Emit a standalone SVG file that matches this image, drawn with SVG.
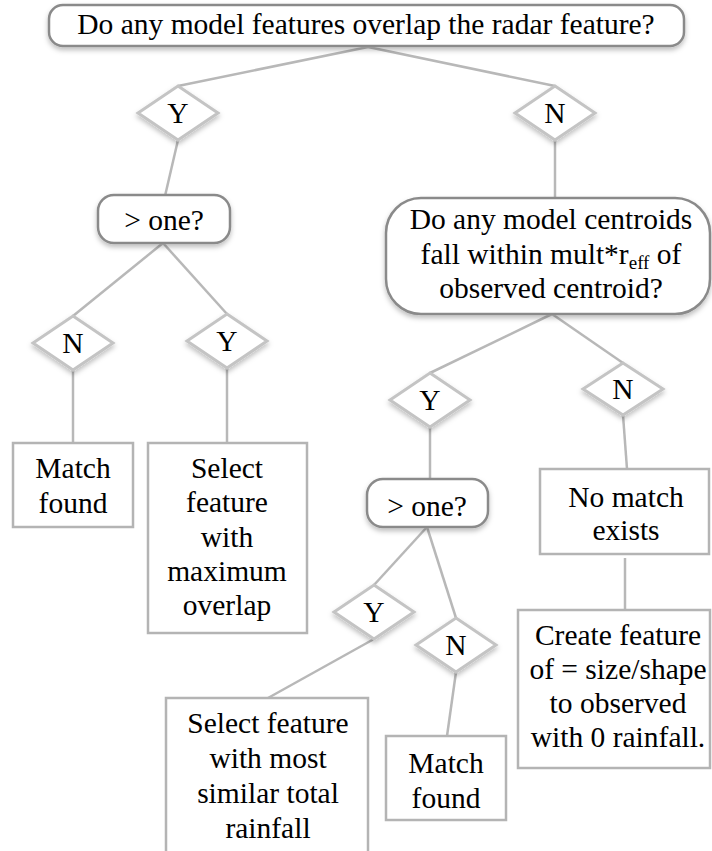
<svg xmlns="http://www.w3.org/2000/svg" width="712" height="851" viewBox="0 0 712 851">
<defs>
<filter id="sh" x="-20%" y="-20%" width="140%" height="160%">
<feDropShadow dx="0" dy="3" stdDeviation="2.5" flood-color="#000" flood-opacity="0.25"/>
</filter>
<style>
text{font-family:'Liberation Serif','Times New Roman',Times,serif;font-size:29.5px;fill:#000;text-anchor:middle}
.rb{fill:#fff;stroke:#8a8a8a;stroke-width:2.5;filter:url(#sh)}
.dm{fill:#fff;stroke:#c4c4c4;stroke-width:3;filter:url(#sh)}
.bx{fill:#fff;stroke:#b4b4b4;stroke-width:2.5}
.cn{fill:none;stroke:#b8b8b8;stroke-width:2.5}
</style>
</defs>
<rect width="712" height="851" fill="#fff"/>
<g id="connectors">
<line class="cn" x1="368" y1="47" x2="178" y2="86"/>
<line class="cn" x1="368" y1="47" x2="555" y2="86"/>
<line class="cn" x1="178" y1="140" x2="165" y2="196"/>
<line class="cn" x1="555" y1="140" x2="555" y2="198"/>
<line class="cn" x1="163" y1="243" x2="73" y2="316"/>
<line class="cn" x1="163" y1="243" x2="227" y2="314"/>
<line class="cn" x1="73" y1="370" x2="73" y2="443"/>
<line class="cn" x1="227" y1="368" x2="227" y2="443"/>
<line class="cn" x1="552" y1="314" x2="430" y2="373"/>
<line class="cn" x1="552" y1="314" x2="623" y2="363"/>
<line class="cn" x1="430" y1="427" x2="430" y2="479"/>
<line class="cn" x1="623" y1="415" x2="627" y2="469"/>
<line class="cn" x1="625" y1="558" x2="625" y2="610"/>
<line class="cn" x1="427" y1="527" x2="374" y2="585"/>
<line class="cn" x1="427" y1="527" x2="456" y2="618"/>
<line class="cn" x1="374" y1="639" x2="268" y2="698"/>
<line class="cn" x1="456" y1="672" x2="447" y2="736"/>
</g>
<g font-family="Liberation Serif, serif">
<g id="q-overlap">
<rect class="rb" x="49" y="5" width="635" height="41" rx="14"/>
<text x="366" y="34">Do any model features overlap the radar feature?</text>
</g>
<g id="d-y1"><polygon class="dm" points="178,86 218,113 178,140 138,113"/><text x="178" y="123">Y</text></g>
<g id="d-n1"><polygon class="dm" points="555,86 595,113 555,140 515,113"/><text x="555" y="123">N</text></g>
<g id="q-more1">
<rect class="rb" x="98" y="195" width="132" height="48" rx="16"/>
<text x="164" y="230">&gt; one?</text>
</g>
<g id="q-centroid">
<rect class="rb" x="386" y="198" width="324" height="116" rx="35"/>
<text x="551" y="229">Do any model centroids</text>
<text x="551" y="264">fall within mult*r<tspan font-size="19" dy="5">eff</tspan><tspan dy="-5"> of</tspan></text>
<text x="551" y="298">observed centroid?</text>
</g>
<g id="d-n2"><polygon class="dm" points="73,316 113,343 73,370 33,343"/><text x="73" y="353">N</text></g>
<g id="d-y2"><polygon class="dm" points="227,314 267,341 227,368 187,341"/><text x="227" y="351">Y</text></g>
<g id="d-y3"><polygon class="dm" points="430,373 470,400 430,427 390,400"/><text x="430" y="410">Y</text></g>
<g id="d-n3"><polygon class="dm" points="623,363 663,389 623,415 583,389"/><text x="623" y="399">N</text></g>
<g id="r-match1">
<rect class="bx" x="13" y="443" width="120" height="84"/>
<text x="73" y="478">Match</text><text x="73" y="513">found</text>
</g>
<g id="r-select-overlap">
<rect class="bx" x="148" y="443" width="159" height="190"/>
<text x="227" y="478">Select</text><text x="227" y="512">feature</text><text x="227" y="547">with</text><text x="227" y="581">maximum</text><text x="227" y="615">overlap</text>
</g>
<g id="q-more2">
<rect class="rb" x="367" y="479" width="121" height="48" rx="16"/>
<text x="427" y="516">&gt; one?</text>
</g>
<g id="r-nomatch">
<rect class="bx" x="540" y="469" width="169" height="85"/>
<text x="626" y="507">No match</text><text x="626" y="540">exists</text>
</g>
<g id="d-y4"><polygon class="dm" points="374,585 414,612 374,639 334,612"/><text x="374" y="622">Y</text></g>
<g id="d-n4"><polygon class="dm" points="456,618 496,645 456,672 416,645"/><text x="456" y="655">N</text></g>
<g id="r-create">
<rect class="bx" x="518" y="610" width="192" height="158"/>
<text x="618" y="645">Create feature</text><text x="618" y="679">of = size/shape</text><text x="618" y="713">to observed</text><text x="618" y="747">with 0 rainfall.</text>
</g>
<g id="r-select-rain">
<rect class="bx" x="166" y="698" width="202" height="172"/>
<text x="268" y="733">Select feature</text><text x="268" y="768">with most</text><text x="268" y="803">similar total</text><text x="268" y="838">rainfall</text>
</g>
<g id="r-match2">
<rect class="bx" x="386" y="736" width="120" height="84"/>
<text x="446" y="773">Match</text><text x="446" y="808">found</text>
</g>
</g>
</svg>
